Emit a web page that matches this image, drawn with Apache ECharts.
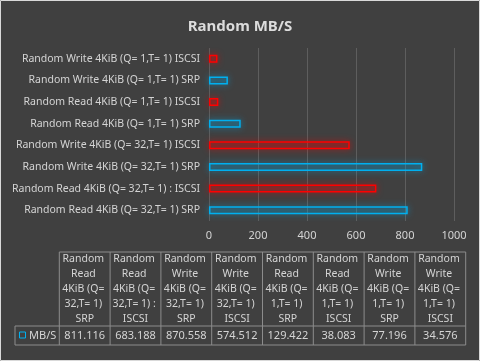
<!DOCTYPE html>
<html><head><meta charset="utf-8">
<script src="https://cdn.jsdelivr.net/npm/echarts@6/dist/echarts.min.js"></script>
<style>html,body{margin:0;padding:0;background:#404040}#c{width:480px;height:361px}</style>
</head><body><div id="c"></div>
<script>
var categories = [
  'Random Read 4KiB (Q= 32,T= 1) SRP',
  'Random Read 4KiB (Q= 32,T= 1) : ISCSI',
  'Random Write 4KiB (Q= 32,T= 1) SRP',
  'Random Write 4KiB (Q= 32,T= 1) ISCSI',
  'Random Read 4KiB (Q= 1,T= 1) SRP',
  'Random Read 4KiB (Q= 1,T= 1) ISCSI',
  'Random Write 4KiB (Q= 1,T= 1) SRP',
  'Random Write 4KiB (Q= 1,T= 1) ISCSI'
];
var values = [811.116, 683.188, 870.558, 574.512, 129.422, 38.083, 77.196, 34.576];
var seriesName = 'MB/S';
var xTicks = [0, 200, 400, 600, 800, 1000];
var title = 'Random MB/S';

var FONT = '"Noto Sans", "Open Sans", sans-serif';
var TXT = '#d4d4d4';
var RED = '#ff0000', BLUE = '#00b0f0';

function styleFor(name) {
  var isRed = /ISCSI/.test(name);
  var c = isRed ? RED : BLUE;
  return {
    color: isRed ? 'rgba(255,0,0,0.12)' : 'rgba(0,176,240,0.08)',
    borderColor: c, borderWidth: 1.5,
    shadowColor: isRed ? 'rgba(255,0,0,0.8)' : 'rgba(0,176,240,0.8)',
    shadowBlur: 6
  };
}

// table geometry
var tblX0 = 59.3, colW = 50.8, legX = 15, hdrTop = 252, hdrBot = 326, rowBot = 345;
var g = [];
g.push({type:'rect', shape:{x:0.5,y:0.5,width:479,height:360}, style:{fill:null, stroke:'#d9d9d9', lineWidth:1}, z:10});
var n = categories.length;
var lineC = '#8c8c8c';
var tblX1 = tblX0 + n*colW;
g.push({type:'line', shape:{x1:tblX0,y1:hdrTop,x2:tblX1,y2:hdrTop}, style:{stroke:lineC,lineWidth:1}});
g.push({type:'line', shape:{x1:legX,y1:hdrBot,x2:tblX1,y2:hdrBot}, style:{stroke:lineC,lineWidth:1}});
g.push({type:'line', shape:{x1:legX,y1:rowBot,x2:tblX1,y2:rowBot}, style:{stroke:lineC,lineWidth:1}});
g.push({type:'line', shape:{x1:legX,y1:hdrBot,x2:legX,y2:rowBot}, style:{stroke:lineC,lineWidth:1}});
for (var i = 0; i <= n; i++) {
  var x = tblX0 + i*colW;
  g.push({type:'line', shape:{x1:x,y1:hdrTop,x2:x,y2:rowBot}, style:{stroke:lineC,lineWidth:1}});
}
for (var i = 0; i < n; i++) {
  var cx = tblX0 + i*colW + colW/2;
  g.push({type:'text', x:cx, y:hdrTop+(hdrBot-hdrTop)/2, style:{
    text: categories[i], width: colW-2, overflow:'break', align:'center', verticalAlign:'middle',
    fill: TXT, font: '10.5px ' + FONT, lineHeight: 14.8
  }});
  g.push({type:'text', x:cx, y:(hdrBot+rowBot)/2+0.5, style:{
    text: values[i].toFixed(3), align:'center', verticalAlign:'middle', fill: TXT, font: '11px ' + FONT
  }});
}
g.push({type:'rect', shape:{x:19.5,y:332,width:6,height:6}, style:{fill:null, stroke:BLUE, lineWidth:1}});
g.push({type:'text', x:29, y:335.5, style:{text:seriesName, align:'left', verticalAlign:'middle', fill:TXT, font:'11px '+FONT}});

var chart = echarts.init(document.getElementById('c'));
chart.setOption({
  backgroundColor: '#404040',
  animation: false,
  title: {text: title, left: 'center', top: 14, textStyle:{color:'#dcdcdc', fontSize:15, fontWeight:'bold', fontFamily:FONT}},
  grid: {left: 209, right: 26, top: 48, bottom: 140, containLabel: false},
  xAxis: {type:'value', min: xTicks[0], max: xTicks[xTicks.length-1], interval: 200,
    axisLine:{show:false}, axisTick:{show:false},
    splitLine:{lineStyle:{color:'#5e5e5e', width:1}},
    axisLabel:{color:TXT, fontSize:11, fontFamily:FONT, margin:9, formatter: function(v){ return String(v); }}},
  yAxis: {type:'category', data: categories,
    axisLine:{show:false}, axisTick:{show:false},
    axisLabel:{color:TXT, fontSize:10.5, fontFamily:FONT, margin:9}},
  series: [{type:'bar', name: seriesName, barWidth: 8,
    data: values.map(function(v, i){ return {value: v, itemStyle: styleFor(categories[i])}; })}],
  graphic: g
});
</script></body></html>
